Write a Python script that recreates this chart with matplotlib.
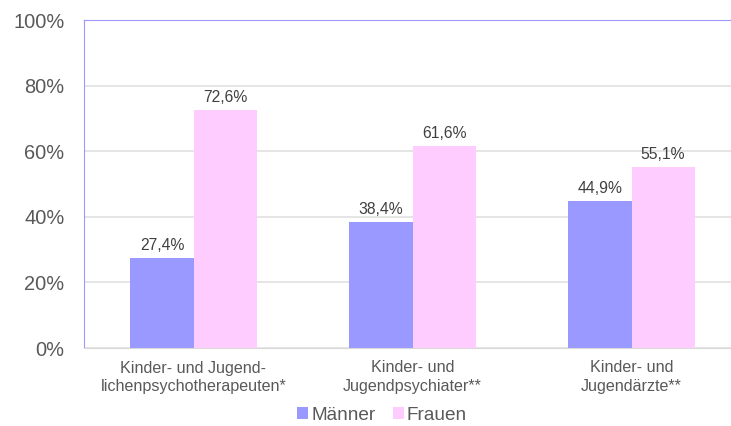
import matplotlib
matplotlib.use("Agg")
import matplotlib.pyplot as plt
import numpy as np

plt.rcParams['font.family'] = ['Liberation Sans', 'DejaVu Sans']

# Daten
categories = ["Kinder- und Jugend-\nlichenpsychotherapeuten*",
              "Kinder- und\nJugendpsychiater**",
              "Kinder- und\nJugendärzte**"]
maenner = [27.4, 38.4, 44.9]
frauen = [72.6, 61.6, 55.1]
series_names = ["Männer", "Frauen"]
y_ticks = [0, 20, 40, 60, 80, 100]

col_m = "#9999FF"
col_f = "#FFCCFF"
text_col = "#595959"

fig = plt.figure(figsize=(7.31, 4.26), dpi=100)
ax = fig.add_axes([84 / 731, 1 - 348 / 426, 657 / 731, 328 / 426])

x = np.arange(len(categories))
w = 0.2877
bars_m = ax.bar(x - w / 2, maenner, w, color=col_m, label=series_names[0], zorder=3)
bars_f = ax.bar(x + w / 2, frauen, w, color=col_f, label=series_names[1], zorder=3)

# Werte über den Balken
for bars, vals in ((bars_m, maenner), (bars_f, frauen)):
    for b, v in zip(bars, vals):
        ax.text(b.get_x() + b.get_width() / 2, v + 1.5, f"{v:.1f}%".replace(".", ","),
                ha="center", va="bottom", fontsize=11.3, color="#404040")

ax.set_xlim(-0.5, len(categories) - 0.5)
ax.set_ylim(0, 100)
ax.set_yticks(y_ticks)
ax.set_yticklabels([f"{t}%" for t in y_ticks], fontsize=14.4, color=text_col)
ax.set_xticks(x)
ax.set_xticklabels(categories, fontsize=11.6, color=text_col, linespacing=1.3)
ax.tick_params(axis="both", length=0)
ax.tick_params(axis="y", pad=14)
ax.tick_params(axis="x", pad=9)

ax.yaxis.grid(True, color="#E0E0E0", linewidth=1.2, zorder=0)
ax.set_axisbelow(True)

ax.spines["left"].set_color(col_m)
ax.spines["top"].set_color(col_m)
ax.spines["bottom"].set_color("#D9D9D9")
ax.spines["right"].set_visible(False)

leg = fig.legend(loc="center", bbox_to_anchor=(382 / 731, 1 - 415 / 426), ncol=2,
                 frameon=False, fontsize=13.7, handlelength=0.6, handleheight=0.6,
                 handletextpad=0.15, columnspacing=0.9)
for t in leg.get_texts():
    t.set_color(text_col)

fig.savefig("out.png", dpi=100)
